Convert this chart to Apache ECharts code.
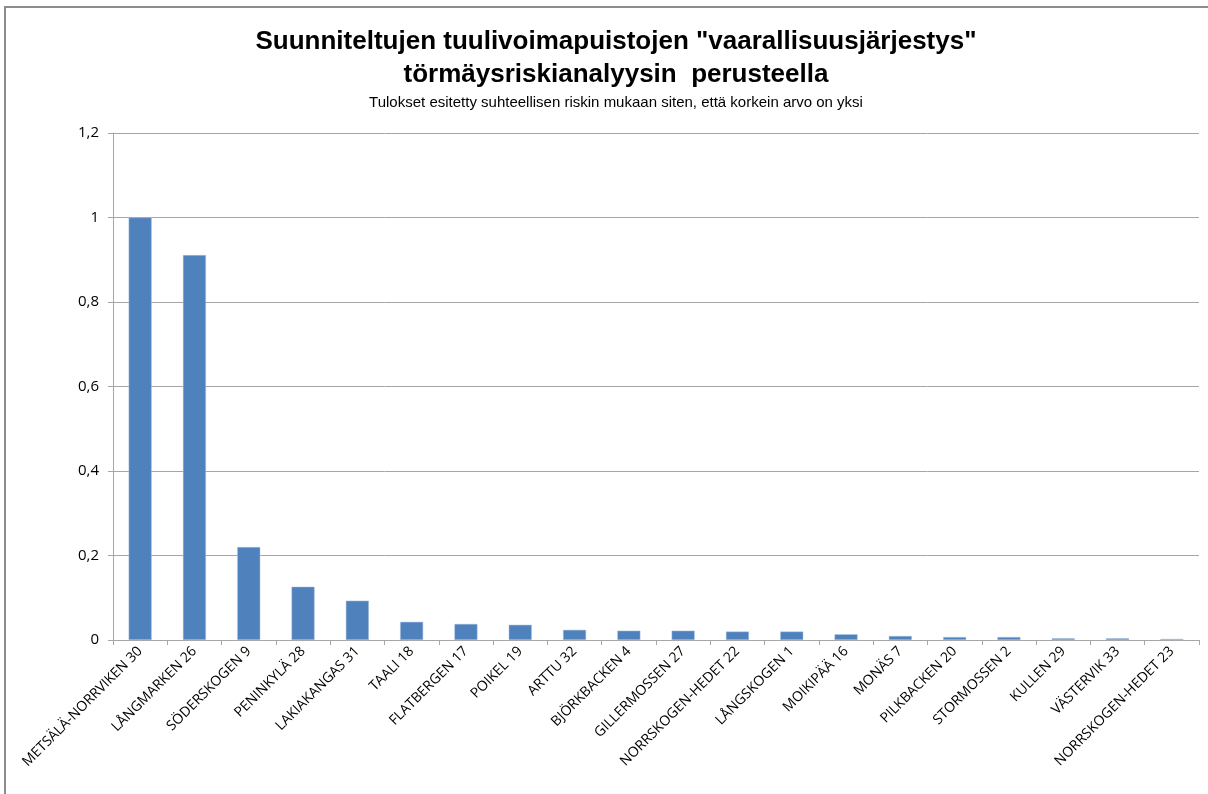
<!DOCTYPE html>
<html>
<head>
<meta charset="utf-8">
<style>
  html, body { margin: 0; padding: 0; background: #fff; overflow: hidden; }
  #chart { width: 1208px; height: 794px; }
  #frame { position: absolute; left: 4px; top: 6px; width: 1204px; height: 788px;
           border-left: 2px solid #8c8c8c; border-top: 2px solid #8c8c8c; pointer-events: none; }
</style>
<script src="https://cdn.jsdelivr.net/npm/echarts@6/dist/echarts.min.js"></script>
</head>
<body>
<div id="chart"></div>
<div id="frame"></div>
<script>
const categories = [
  "METSÄLÄ-NORRVIKEN 30", "LÅNGMARKEN 26", "SÖDERSKOGEN 9", "PENINKYLÄ 28",
  "LAKIAKANGAS 31", "TAALI 18", "FLATBERGEN 17", "POIKEL 19", "ARTTU 32",
  "BJÖRKBACKEN 4", "GILLERMOSSEN 27", "NORRSKOGEN-HEDET 22", "LÅNGSKOGEN 1",
  "MOIKIPÄÄ 16", "MONÄS 7", "PILKBACKEN 20", "STORMOSSEN 2", "KULLEN 29",
  "VÄSTERVIK 33", "NORRSKOGEN-HEDET 23"
];
const riskValues = [
  1.0, 0.911, 0.22, 0.126, 0.093, 0.043, 0.038, 0.036, 0.024,
  0.022, 0.022, 0.020, 0.020, 0.0135, 0.0095, 0.007, 0.007, 0.004,
  0.004, 0.0025
];
const yTicks = [0, 0.2, 0.4, 0.6, 0.8, 1, 1.2];

const titleText = 'Suunniteltujen tuulivoimapuistojen "vaarallisuusjärjestys"\ntörmäysriskianalyysin  perusteella';
const subtitleText = "Tulokset esitetty suhteellisen riskin mukaan siten, että korkein arvo on yksi";

const chart = echarts.init(document.getElementById("chart"));

const option = {
  backgroundColor: "#fff",
  animation: false,
  title: {
    text: titleText,
    subtext: subtitleText,
    left: 611,
    textAlign: "center",
    top: 20,
    itemGap: 4,
    textStyle: {
      fontFamily: "Liberation Sans",
      fontWeight: "bold",
      fontSize: 26,
      lineHeight: 33,
      color: "#000"
    },
    subtextStyle: {
      fontFamily: "Liberation Sans",
      fontSize: 15,
      color: "#000"
    }
  },
  grid: {
    left: 113,
    right: 9,
    top: 133,
    bottom: 154,
    containLabel: false
  },
  xAxis: {
    type: "category",
    data: categories,
    boundaryGap: true,
    axisLine: { lineStyle: { color: "#a6a6a6", width: 1 } },
    axisTick: { show: true, length: 5, lineStyle: { color: "#a6a6a6" } },
    axisLabel: {
      interval: 0,
      rotate: 45,
      margin: 9,
      color: "#000",
      fontFamily: "Open Sans",
      fontSize: 14
    }
  },
  yAxis: {
    type: "value",
    min: yTicks[0],
    max: yTicks[yTicks.length - 1],
    interval: 0.2,
    axisLine: { show: true, lineStyle: { color: "#a6a6a6" } },
    axisTick: { show: true, length: 5, lineStyle: { color: "#a6a6a6" } },
    axisLabel: {
      margin: 14,
      color: "#000",
      fontFamily: "Open Sans",
      fontSize: 15,
      formatter: v => {
        const r = Math.round(v * 10) / 10;
        return String(r).replace(".", ",");
      }
    },
    splitLine: { show: true, lineStyle: { color: "#a6a6a6", width: 1 } }
  },
  series: [
    {
      name: "Riski",
      type: "bar",
      data: riskValues,
      barWidth: 23,
      itemStyle: {
        color: "#4f81bd",
        borderColor: "#a7c0de",
        borderWidth: 0.5
      }
    }
  ]
};

chart.setOption(option);
</script>
</body>
</html>
